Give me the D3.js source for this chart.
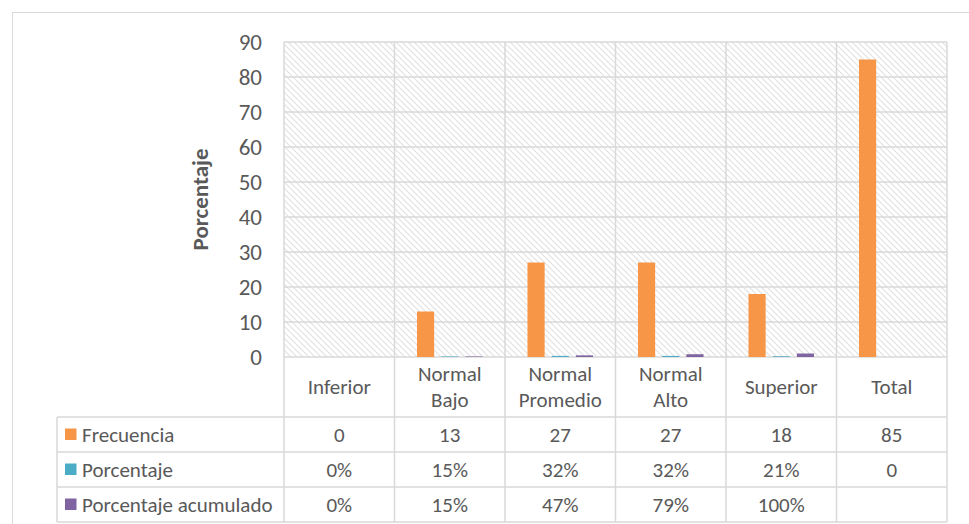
<!DOCTYPE html>
<html>
<head>
<meta charset="utf-8">
<script src="https://cdn.jsdelivr.net/npm/d3@7"></script>
<style>
  body { margin: 0; background: #fff; }
  svg { display: block; }
  text { font-family: Carlito, Lato, "Open Sans", sans-serif; fill: #595959; }
</style>
</head>
<body>
<div id="chart"></div>
<script>
// datos
var categories = ["Inferior", "Normal Bajo", "Normal Promedio", "Normal Alto", "Superior", "Total"];
var frecuencia = [0, 13, 27, 27, 18, 85];
var porcentaje = [0, 0.15, 0.32, 0.32, 0.21, 0];
var acumulado = [0, 0.15, 0.47, 0.79, 1.00, null];
var yTicks = [0, 10, 20, 30, 40, 50, 60, 70, 80, 90];

var seriesNames = ["Frecuencia", "Porcentaje", "Porcentaje acumulado"];
var seriesColors = ["#F79646", "#4BACC6", "#8064A2"];

var width = 969, height = 524;
var plotL = 284, plotR = 947, plotT = 42, plotB = 357;
var tableL = 57, headerB = 417, rowH = 35;
var gridColor = "#d9d9d9";
var fontSize = 21;

var svg = d3.select("#chart").append("svg")
    .attr("width", width)
    .attr("height", height);

// patron rayado del area de trazado
var defs = svg.append("defs");
var pat = defs.append("pattern")
    .attr("id", "hatch")
    .attr("patternUnits", "userSpaceOnUse")
    .attr("width", 6).attr("height", 6);
pat.append("rect").attr("width", 6).attr("height", 6).attr("fill", "#fff");
pat.append("path")
    .attr("d", "M-2,-2 L8,8 M-2,4 L2,8 M4,-2 L8,2")
    .attr("stroke", "#e1e1e1")
    .attr("stroke-width", 1.1);

// marco exterior
svg.append("rect")
    .attr("x", 12.5).attr("y", 12.5)
    .attr("width", 1000).attr("height", 600)
    .attr("fill", "none")
    .attr("stroke", gridColor);

var x = d3.scaleBand().domain(categories).range([plotL, plotR]).padding(0);
var x1 = d3.scaleBand().domain(seriesNames).range([0, x.bandwidth()])
    .paddingInner(0.29).paddingOuter(0.93);
var y = d3.scaleLinear().domain([0, 90]).range([plotB, plotT]);

svg.append("rect")
    .attr("x", plotL).attr("y", plotT)
    .attr("width", plotR - plotL).attr("height", plotB - plotT)
    .attr("fill", "url(#hatch)");

// lineas horizontales
svg.append("g").selectAll("line")
    .data(yTicks)
    .enter().append("line")
    .attr("x1", plotL).attr("x2", plotR)
    .attr("y1", d => y(d)).attr("y2", d => y(d))
    .attr("stroke", gridColor).attr("stroke-width", 1.5);

// eje y
var yAxis = svg.append("g")
    .attr("transform", "translate(" + (plotL - 22) + ",0)")
    .call(d3.axisLeft(y).tickValues(yTicks).tickSize(0).tickPadding(0));
yAxis.select(".domain").remove();
yAxis.selectAll("text")
    .style("font-family", null)
    .attr("font-size", fontSize + 2)
    .attr("fill", "#595959");

svg.append("text")
    .attr("transform", "translate(208," + ((plotT + plotB) / 2) + ") rotate(-90)")
    .attr("text-anchor", "middle")
    .attr("font-size", fontSize + 2)
    .attr("font-weight", "bold")
    .text("Porcentaje");

// barras
var allSeries = [frecuencia, porcentaje, acumulado];
var groups = svg.append("g").selectAll("g")
    .data(seriesNames)
    .enter().append("g")
    .attr("fill", (d, i) => seriesColors[i]);

groups.selectAll("rect")
    .data((s, i) => allSeries[i].map((v, j) => ({ s: s, c: categories[j], v: v })))
    .enter().filter(d => d.v != null && d.v > 0)
    .append("rect")
    .attr("x", d => x(d.c) + x1(d.s))
    .attr("width", x1.bandwidth())
    .attr("y", d => y(d.v))
    .attr("height", d => plotB - y(d.v));

// tabla de datos
var tableB = headerB + rowH * 3;
var lines = svg.append("g").attr("stroke", gridColor).attr("stroke-width", 1.5);

x.domain().forEach(function(c) {
    lines.append("line")
        .attr("x1", x(c)).attr("x2", x(c))
        .attr("y1", plotT).attr("y2", tableB);
});
lines.append("line").attr("x1", plotR).attr("x2", plotR).attr("y1", plotT).attr("y2", tableB);
lines.append("line").attr("x1", tableL).attr("x2", tableL).attr("y1", headerB).attr("y2", tableB);
[0, 1, 2, 3].forEach(function(r) {
    lines.append("line")
        .attr("x1", tableL).attr("x2", plotR)
        .attr("y1", headerB + r * rowH).attr("y2", headerB + r * rowH);
});

// encabezados de categoria
categories.forEach(function(c) {
    var parts = c.split(" ");
    var cy = (plotB + headerB) / 2;
    var t = svg.append("text")
        .attr("text-anchor", "middle")
        .attr("font-size", fontSize)
        .attr("x", x(c) + x.bandwidth() / 2);
    parts.forEach(function(p, k) {
        t.append("tspan")
            .attr("x", x(c) + x.bandwidth() / 2)
            .attr("y", cy + (k - (parts.length - 1) / 2) * 26)
            .attr("dy", "0.35em")
            .text(p);
    });
});

var pctFmt = d3.format(".0%");
var rowTexts = [
    frecuencia.map(v => String(v)),
    porcentaje.map((v, i) => categories[i] === "Total" ? String(v) : pctFmt(v)),
    acumulado.map(v => v == null ? "" : pctFmt(v))
];

seriesNames.forEach(function(s, r) {
    var cy = headerB + r * rowH + rowH / 2;
    svg.append("rect")
        .attr("x", 65).attr("y", cy - 6)
        .attr("width", 11.5).attr("height", 11.5)
        .attr("fill", seriesColors[r]);
    svg.append("text")
        .attr("x", 82).attr("y", cy).attr("dy", "0.35em")
        .attr("font-size", fontSize)
        .text(s);
    rowTexts[r].forEach(function(t, j) {
        svg.append("text")
            .attr("x", x(categories[j]) + x.bandwidth() / 2)
            .attr("y", cy).attr("dy", "0.35em")
            .attr("text-anchor", "middle")
            .attr("font-size", fontSize)
            .text(t);
    });
});
</script>
</body>
</html>
